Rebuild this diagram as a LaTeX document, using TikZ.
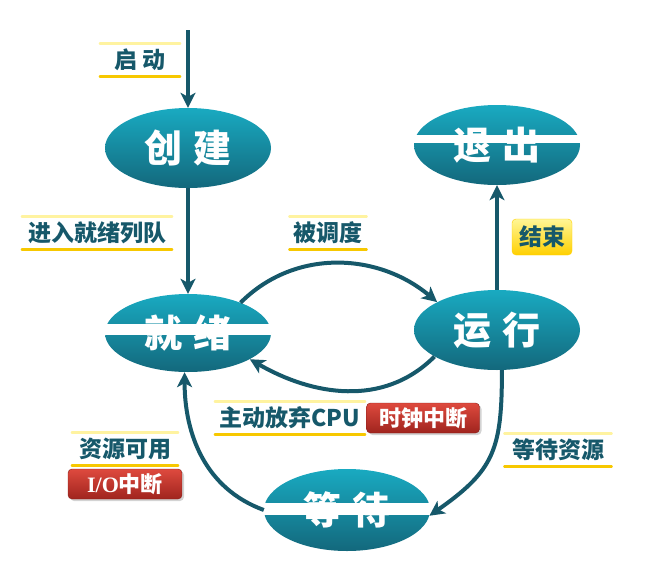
\documentclass[tikz,border=0pt]{standalone}
\usepackage{fontspec}
\usepackage{tikz}
\usetikzlibrary{shapes, arrows.meta, shadows}
\newfontfamily\cjk{Noto Sans CJK SC}
\newfontfamily\iofont{Liberation Serif}
\definecolor{tealtop}{RGB}{25, 170, 193}
\definecolor{tealbot}{RGB}{19, 104, 124}
\definecolor{deep}{RGB}{22, 88, 106}
\definecolor{lineyel}{RGB}{255, 243, 160}
\definecolor{linegold}{RGB}{247, 200, 0}
\definecolor{redtop}{RGB}{222, 74, 62}
\definecolor{redbot}{RGB}{160, 36, 30}
\definecolor{redline}{RGB}{135, 30, 25}
\definecolor{yeltop}{RGB}{255, 246, 150}
\definecolor{yelbot}{RGB}{255, 208, 0}

\begin{document}
\begin{tikzpicture}[
   x=1pt, y=1pt,
   state/.style={ellipse, top color=tealtop, bottom color=tealbot, text=white,
                 font=\cjk\bfseries\fontsize{38}{40}\selectfont,
                 inner sep=0, minimum width=166, minimum height=80},
   tag/.style={rectangle, text=deep, font=\cjk\bfseries\fontsize{23}{25}\selectfont,
               inner sep=0, minimum height=33},
   alarm/.style={rectangle, rounded corners=4, top color=redtop, bottom color=redbot,
                 draw=redline, text=white, font=\cjk\bfseries\fontsize{22}{24}\selectfont,
                 inner sep=0, minimum height=30,
                 drop shadow={opacity=0.35, shadow xshift=2pt, shadow yshift=-2pt}},
   note/.style={rectangle, rounded corners=4, top color=yeltop, bottom color=yelbot,
                draw=yelbot, text=deep, font=\cjk\bfseries\fontsize{23}{25}\selectfont,
                inner sep=0},
   topline/.style={draw=lineyel, line width=2.5, line cap=round},
   botline/.style={draw=linegold, line width=2.5, line cap=round},
   flow/.style={-{Stealth[length=15pt, width=15pt, inset=4pt]}, color=deep, line width=4}
  ]

  \useasboundingbox (0, 0) rectangle (654, -579);

  % States
  \node (create) at (188, -148) [state] {创\hspace{12pt}建};
  \node (exit)   at (497, -145) [state] {退\hspace{12pt}出};
  \node (ready)  at (188, -333) [state, minimum height=78] {就\hspace{12pt}绪};
  \node (run)    at (497, -330) [state] {运\hspace{12pt}行};
  \node (wait)   at (347, -510) [state, minimum height=82] {等\hspace{12pt}待};
  \coordinate (begin) at (188, -30);

  \foreach \s/\a/\b in {exit/10/2, ready/9/-2, wait/7/-5} {
    \fill[white] ([yshift=\a pt]\s.west) rectangle ([yshift=\b pt]\s.east);
  }

  % Transitions
  \foreach \B/\E in {begin/create.north, create/ready, run/exit} {
    \draw[flow] (\B) -- (\E);
  }
  \draw[flow] (ready.30) to[out=45, in=140] (run.155);
  \draw[flow] (run.203) to[out=225, in=-30] (ready.-23);
  \draw[flow] (run.-83) to[out=-90, in=35, looseness=1.25] (wait.-4);
  \draw[flow] (wait.west) to[out=160, in=-90] (ready.-95);

  % Labels
  \node (lstart) at (140, -60)  [tag, minimum width=80]  {启\hspace{6pt}动};
  \node (lqueue) at (97, -233)  [tag, minimum width=150] {进入就绪列队};
  \node (lsched) at (328, -233) [tag, minimum width=77]  {被调度};
  \node (lcpu)   at (290, -418) [tag, minimum width=150] {主动放弃CPU};
  \node (lfree)  at (125, -449) [tag, minimum width=106] {资源可用};
  \node (lneed)  at (558, -450) [tag, minimum width=107] {等待资源};

  \foreach \n in {lstart, lqueue, lsched, lcpu, lfree, lneed} {
    \draw[topline] (\n.north west) -- (\n.north east);
    \draw[botline] (\n.south west) -- (\n.south east);
  }

  \node (ltick) at (423, -418) [alarm, minimum width=113] {时钟中断};
  \node (lio)   at (125, -484) [alarm, minimum width=114] {{\iofont I/O}中断};
  \node (lend)  at (542, -237) [note, minimum width=60, minimum height=36] {结束};

\end{tikzpicture}
\end{document}
